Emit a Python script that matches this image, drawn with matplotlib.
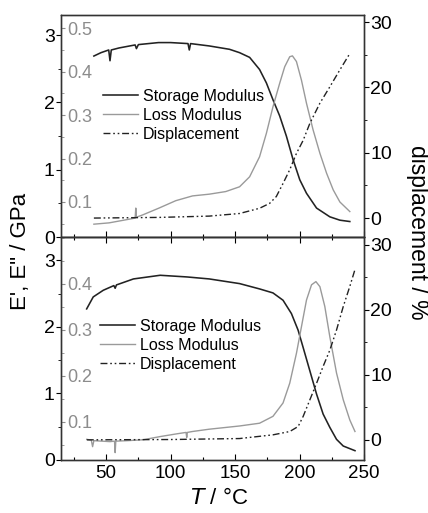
import matplotlib
matplotlib.use("Agg")
import matplotlib.pyplot as plt
from matplotlib.ticker import MultipleLocator

plt.rcParams['font.family'] = ['Liberation Sans', 'DejaVu Sans']

# ---- data: top panel ----
T_s1 = [40.5, 46, 52, 53, 54, 60, 72.5, 73.5, 75, 90.6, 100, 113.5, 114.5, 115.5, 130,
        145.7, 153.5, 161.3, 169, 174.3, 179.4, 184.6, 189.8, 195, 200.2, 205.4,
        213.2, 223.5, 231.3, 239]
E_s1 = [2.69, 2.74, 2.78, 2.62, 2.78, 2.81, 2.855, 2.80, 2.86, 2.89, 2.89, 2.875, 2.78,
        2.875, 2.84, 2.79, 2.74, 2.67, 2.49, 2.29, 2.04, 1.80, 1.50, 1.15, 0.85, 0.65,
        0.43, 0.30, 0.25, 0.23]

T_l1 = [40.5, 52.3, 65.2, 72.5, 73, 73.5, 78.1, 91, 104, 117, 130, 142.8, 153.5, 161.3,
        169, 174.3, 179.4, 184.6, 188.5, 192.4, 194.5, 197.6, 201.5, 205.4, 210.5,
        215.8, 221, 226.1, 231.3, 239]
E_l1 = [0.049, 0.052, 0.059, 0.063, 0.086, 0.065, 0.070, 0.086, 0.103, 0.114, 0.118,
        0.124, 0.135, 0.158, 0.204, 0.258, 0.319, 0.373, 0.411, 0.434, 0.436, 0.423,
        0.38, 0.327, 0.266, 0.212, 0.166, 0.128, 0.10, 0.078]

T_d1 = [40.5, 91, 130, 153.5, 169, 176.8, 182, 187.2, 192.4, 197.6, 202.8, 208, 215.8,
        223.5, 231.3, 239]
D_1 = [0.0, 0.1, 0.3, 0.7, 1.5, 2.25, 3.3, 5.3, 7.4, 9.9, 11.9, 14.5, 17.6, 20.1, 22.7, 25.2]

# ---- data: bottom panel ----
T_s2 = [34.9, 40, 47.8, 56, 57, 58, 71.2, 91.9, 112.7, 130, 153.5, 169, 179.4, 187.2,
        193.7, 198.9, 202.8, 208, 213.2, 218.3, 223.5, 228.7, 233.9, 243]
E_s2 = [2.27, 2.45, 2.55, 2.62, 2.58, 2.63, 2.72, 2.775, 2.75, 2.72, 2.65, 2.57, 2.51,
        2.40, 2.20, 1.95, 1.69, 1.34, 0.99, 0.69, 0.49, 0.31, 0.21, 0.14]

T_l2 = [35, 38.5, 39.5, 40.5, 53, 56.5, 57, 57.5, 66, 78.7, 92, 105, 112, 112.5, 113, 117,
        130, 153.5, 169, 179.4, 187.2, 192.4, 197.6, 201.5, 205.4, 209.3, 212.7, 215.8,
        219.6, 223.5, 228.7, 233.9, 239, 243]
E_l2 = [0.062, 0.060, 0.046, 0.059, 0.057, 0.058, 0.033, 0.058, 0.059, 0.061, 0.068,
        0.074, 0.077, 0.066, 0.077, 0.079, 0.084, 0.091, 0.097, 0.112, 0.141, 0.184,
        0.249, 0.307, 0.365, 0.398, 0.405, 0.394, 0.351, 0.285, 0.206, 0.148, 0.104, 0.079]

T_d2 = [35, 100, 153.5, 179.4, 192.4, 198.9, 202.8, 208, 213.2, 218.3, 223.5, 228.7,
        233.9, 239, 243]
D_2 = [0.0, 0.05, 0.2, 0.77, 1.28, 2.05, 3.6, 6.15, 8.7, 11.3, 13.8, 16.9, 20.5, 23.6, 26.2]

labels = ['Storage Modulus', 'Loss Modulus', 'Displacement']
x_ticks = [50, 100, 150, 200, 250]

BLACK = '#222222'
GRAY = '#9a9a9a'
GRAYTXT = '#8c8c8c'
DASH = (0, (5, 2, 1.2, 2, 1.2, 2))

fig = plt.figure(figsize=(4.28, 5.13), dpi=100)
L, W = 61 / 428, (364 - 61) / 428
ax_top = fig.add_axes([L, 1 - 237 / 513, W, (237 - 15) / 513])
ax_bot = fig.add_axes([L, 1 - 460 / 513, W, (460 - 237) / 513])

panels = [
    (ax_top, T_s1, E_s1, T_l1, E_l1, T_d1, D_1, (0, 3.3), (0.0195, 0.53), (-2.9, 31.1), 0.139, 0.667),
    (ax_bot, T_s2, E_s2, T_l2, E_l2, T_d2, D_2, (0, 3.35), (0.017, 0.502), (-3.1, 31.2), 0.129, 0.632),
]

for i, (ax, ts, es, tl, el, td, dd, ylim1, ylim2, ylim3, lx, ly) in enumerate(panels):
    axg = ax.twinx()
    axr = ax.twinx()
    h1, = ax.plot(ts, es, color=BLACK, lw=1.15)
    h2, = axg.plot(tl, el, color=GRAY, lw=1.0)
    h3, = axr.plot(td, dd, color=BLACK, lw=1.0, linestyle=DASH)

    ax.set_xlim(15, 250)
    ax.set_ylim(*ylim1)
    axg.set_ylim(*ylim2)
    axr.set_ylim(*ylim3)

    ax.set_xticks(x_ticks)
    ax.xaxis.set_minor_locator(MultipleLocator(25))
    ax.tick_params(axis='x', which='both', direction='in', labelsize=13.5)
    ax.tick_params(axis='x', which='major', length=4, width=0.8)
    ax.tick_params(axis='x', which='minor', length=2.5, width=0.8)
    if i == 0:
        ax.tick_params(axis='x', which='both', labelbottom=False, top=False)
    else:
        ax.tick_params(axis='x', which='both', top=True)

    ax.yaxis.set_major_locator(MultipleLocator(1))
    ax.yaxis.set_minor_locator(MultipleLocator(0.5))
    ax.tick_params(axis='y', which='both', direction='out', labelsize=14)
    ax.tick_params(axis='y', which='major', length=3.5, pad=1)
    ax.tick_params(axis='y', which='minor', length=2)

    axg.yaxis.tick_left()
    axg.set_yticks([0.1, 0.2, 0.3, 0.4, 0.5] if i == 0 else [0.1, 0.2, 0.3, 0.4])
    axg.yaxis.set_minor_locator(MultipleLocator(0.05))
    axg.tick_params(axis='y', which='both', direction='in', color=GRAYTXT,
                    labelcolor=GRAYTXT, labelsize=13, pad=-4.5)
    axg.tick_params(axis='y', which='major', length=3)
    axg.tick_params(axis='y', which='minor', length=2)
    for lab in axg.get_yticklabels():
        lab.set_horizontalalignment('left')

    axr.set_yticks([0, 10, 20, 30])
    axr.yaxis.set_minor_locator(MultipleLocator(5))
    axr.tick_params(axis='y', which='both', direction='out', labelsize=14)
    axr.tick_params(axis='y', which='major', length=3.5, pad=1)
    axr.tick_params(axis='y', which='minor', length=2)

    for a in (ax, axg, axr):
        for s in a.spines.values():
            s.set_linewidth(0.9)
            s.set_color('#333333')

    axr.legend([h1, h2, h3], labels, loc='upper left', bbox_to_anchor=(lx, ly),
               frameon=False, fontsize=11.5, handlelength=2.2, handletextpad=0.3,
               labelspacing=0.25, borderpad=0, borderaxespad=0)

fig.text(0.047, 0.51, "E', E\" / GPa", rotation=90, ha='center', va='center', fontsize=16)
fig.text(0.975, 0.548, "displacement / %", rotation=-90, ha='center', va='center', fontsize=16.5)
fig.text(0.512, 0.029, "$T$ / °C", ha='center', va='center', fontsize=16)

fig.savefig('out.png', dpi=100)
